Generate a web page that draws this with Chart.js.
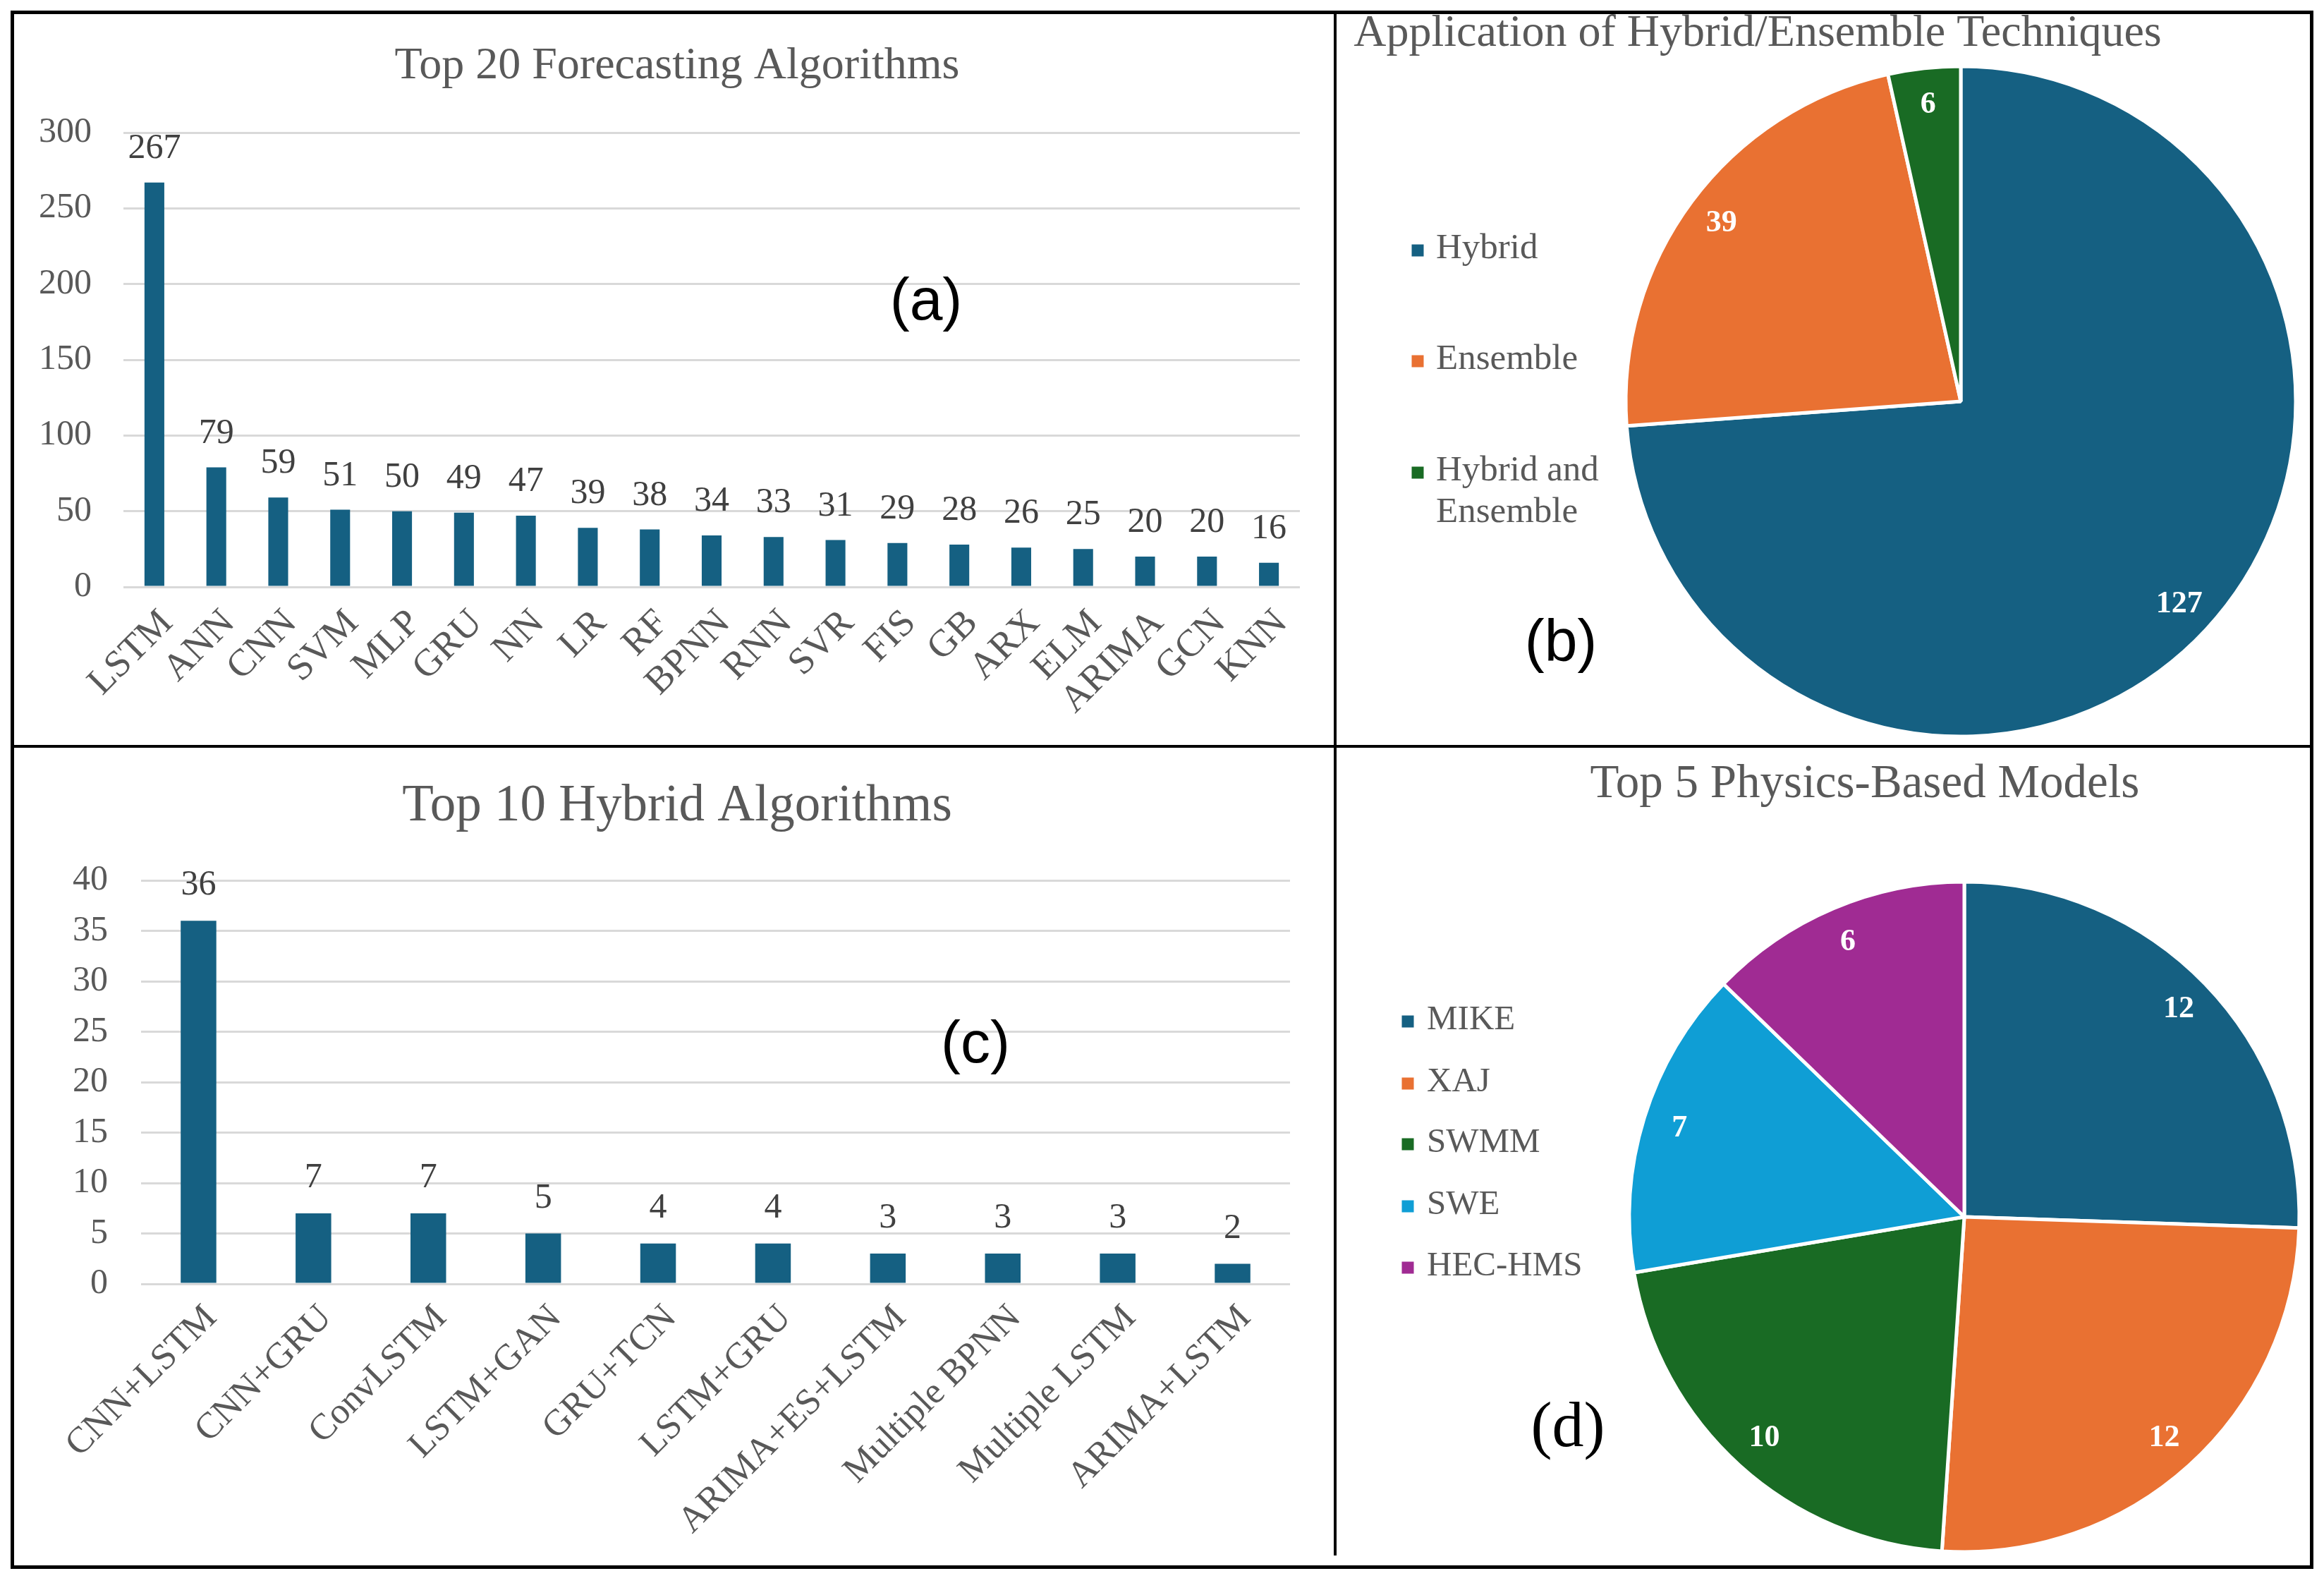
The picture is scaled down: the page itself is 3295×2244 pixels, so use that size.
<!DOCTYPE html>
<html>
<head>
<meta charset="utf-8">
<script src="https://cdn.jsdelivr.net/npm/chart.js@4.4.1/dist/chart.umd.min.js"></script>
<style>
  html, body { margin:0; padding:0; background:#fff; }
  body { width:3295px; height:2244px; position:relative; overflow:hidden; }
  canvas { position:absolute; }
  .ln { position:absolute; background:#000; }
</style>
</head>
<body>
<div class="ln" style="left:15px;top:15px;width:3265px;height:5px"></div>
<div class="ln" style="left:15px;top:2219px;width:3265px;height:5px"></div>
<div class="ln" style="left:15px;top:15px;width:5px;height:2209px"></div>
<div class="ln" style="left:3275px;top:15px;width:5px;height:2209px"></div>
<div class="ln" style="left:15px;top:1056px;width:3265px;height:4px"></div>
<div class="ln" style="left:1891px;top:15px;width:4px;height:2190px"></div>

<canvas id="ca" width="1871" height="1036" style="left:20px;top:20px"></canvas>
<canvas id="cb" width="1380" height="1036" style="left:1895px;top:20px"></canvas>
<canvas id="cc" width="1871" height="1159" style="left:20px;top:1060px"></canvas>
<canvas id="cd" width="1380" height="1159" style="left:1895px;top:1060px"></canvas>

<script>
// ---------------- DATA ----------------
const forecastAlgorithms = ["LSTM","ANN","CNN","SVM","MLP","GRU","NN","LR","RF","BPNN","RNN","SVR","FIS","GB","ARX","ELM","ARIMA","GCN","KNN"];
const forecastCounts     = [267, 79, 59, 51, 50, 49, 47, 39, 38, 34, 33, 31, 29, 28, 26, 25, 20, 20, 16];

const hybridAlgorithms = ["CNN+LSTM","CNN+GRU","ConvLSTM","LSTM+GAN","GRU+TCN","LSTM+GRU","ARIMA+ES+LSTM","Multiple BPNN","Multiple LSTM","ARIMA+LSTM"];
const hybridCounts     = [36, 7, 7, 5, 4, 4, 3, 3, 3, 2];

const techniqueLabels = ["Hybrid","Ensemble","Hybrid and Ensemble"];
const techniqueCounts = [127, 39, 6];

const physicsModels = ["MIKE","XAJ","SWMM","SWE","HEC-HMS"];
const physicsCounts = [12, 12, 10, 7, 6];

const ticksA = [0, 50, 100, 150, 200, 250, 300];
const ticksC = [0, 5, 10, 15, 20, 25, 30, 35, 40];

// ---------------- STYLE ----------------
const SERIF = "'Liberation Serif', 'Times New Roman', serif";
const SANS = "'Liberation Sans', Arial, sans-serif";
const BLUE = "#156082", ORANGE = "#E97132", GREEN = "#196B24", CYAN = "#0F9ED5", PURPLE = "#A02B93";
const GREY = "#595959";

Chart.defaults.font.family = SERIF;
Chart.defaults.color = GREY;

function wrapText(ctx, text, maxW) {
  const words = text.split(' ');
  const lines = [];
  let cur = '';
  for (const w of words) {
    const t = cur ? cur + ' ' + w : w;
    if (ctx.measureText(t).width > maxW && cur) { lines.push(cur); cur = w; }
    else cur = t;
  }
  if (cur) lines.push(cur);
  return lines;
}

const overlay = {
  id: 'overlay',
  afterDatasetsDraw(chart, args, o) {
    const ctx = chart.ctx;
    ctx.save();
    if (o.title) {
      ctx.font = o.title.font;
      ctx.fillStyle = GREY;
      ctx.textAlign = 'center';
      ctx.textBaseline = 'middle';
      ctx.fillText(o.title.text, o.title.x, o.title.y);
    }
    if (o.letter) {
      ctx.font = o.letter.font;
      ctx.fillStyle = '#000';
      ctx.textAlign = 'center';
      ctx.textBaseline = 'middle';
      ctx.fillText(o.letter.text, o.letter.x, o.letter.y);
    }
    const meta = chart.getDatasetMeta(0);
    const data = chart.data.datasets[0].data;
    if (o.barLabels) {
      ctx.font = o.barLabels.font;
      ctx.fillStyle = '#404040';
      ctx.textAlign = 'center';
      ctx.textBaseline = 'middle';
      meta.data.forEach((el, i) => {
        ctx.fillText(String(data[i]), el.x, el.y - o.barLabels.offset);
      });
    }
    if (o.pieLabels) {
      ctx.font = o.pieLabels.font;
      ctx.fillStyle = '#fff';
      ctx.textAlign = 'center';
      ctx.textBaseline = 'middle';
      meta.data.forEach((arc, i) => {
        const p = arc.getProps(['x','y','startAngle','endAngle','outerRadius'], true);
        const mid = (p.startAngle + p.endAngle) / 2;
        const r = p.outerRadius * o.pieLabels.ratio;
        ctx.fillText(String(data[i]), p.x + Math.cos(mid) * r, p.y + Math.sin(mid) * r);
      });
    }
    if (o.legend) {
      const L = o.legend;
      ctx.font = L.font;
      ctx.textAlign = 'left';
      ctx.textBaseline = 'middle';
      const colors = chart.data.datasets[0].backgroundColor;
      chart.data.labels.forEach((lab, i) => {
        const lines = wrapText(ctx, lab, L.maxWidth);
        const y0 = L.rows[i];
        ctx.fillStyle = colors[i];
        ctx.fillRect(L.boxX - L.box / 2, y0 - L.box / 2 + 2, L.box, L.box);
        ctx.fillStyle = GREY;
        lines.forEach((ln, k) => ctx.fillText(ln, L.textX, y0 + k * L.lineH));
      });
    }
    ctx.restore();
  }
};

function barChart(id, labels, values, ticks, cfg) {
  return new Chart(document.getElementById(id), {
    type: 'bar',
    data: { labels: labels, datasets: [{ data: values, backgroundColor: BLUE, borderWidth: 0,
      categoryPercentage: 1.0, barPercentage: cfg.barPct }] },
    options: {
      responsive: false, animation: false, devicePixelRatio: 1,
      layout: { padding: cfg.padding },
      plugins: { legend: { display: false }, tooltip: { enabled: false }, title: { display: false },
        overlay: cfg.overlay },
      scales: {
        x: {
          grid: { display: false, drawTicks: false },
          border: { display: false },
          ticks: { font: { size: cfg.xTickSize }, color: GREY, minRotation: 45, maxRotation: 45,
            padding: cfg.xPad, labelOffset: cfg.xShift, autoSkip: false },
          afterFit: s => { s.height = cfg.xHeight; }
        },
        y: {
          min: ticks[0], max: ticks[ticks.length - 1],
          afterBuildTicks: s => { s.ticks = ticks.map(v => ({ value: v })); },
          grid: { color: '#d9d9d9', lineWidth: 3, drawTicks: false },
          border: { display: false },
          ticks: { font: { size: cfg.tickSize }, color: GREY, padding: cfg.yPad },
          afterFit: s => { s.width = cfg.yWidth; }
        }
      }
    },
    plugins: [overlay]
  });
}

function pieChart(id, labels, values, colors, cfg) {
  return new Chart(document.getElementById(id), {
    type: 'pie',
    data: { labels: labels, datasets: [{ data: values, backgroundColor: colors, borderColor: '#fff', borderWidth: 5 }] },
    options: {
      responsive: false, animation: false, devicePixelRatio: 1,
      radius: cfg.radius,
      layout: { padding: cfg.padding },
      plugins: { legend: { display: false }, tooltip: { enabled: false }, title: { display: false },
        overlay: cfg.overlay }
    },
    plugins: [overlay]
  });
}

// (a)
barChart('ca', forecastAlgorithms, forecastCounts, ticksA, {
  barPct: 0.32, tickSize: 50, xTickSize: 54, xPad: 20, xShift: 18, xHeight: 200, yWidth: 155, yPad: 45,
  padding: { left: 0, right: 48, top: 168, bottom: 24 },
  overlay: {
    title: { text: 'Top 20 Forecasting Algorithms', font: `64px ${SERIF}`, x: 940, y: 74 },
    letter: { text: '(a)', font: `84px ${SANS}`, x: 1293, y: 410 },
    barLabels: { font: `50px ${SERIF}`, offset: 48 }
  }
});

// (c)
barChart('cc', hybridAlgorithms, hybridCounts, ticksC, {
  barPct: 0.31, tickSize: 50, xTickSize: 52, xPad: 18, xShift: 18, xHeight: 380, yWidth: 180, yPad: 47,
  padding: { left: 0, right: 62, top: 188, bottom: 19 },
  overlay: {
    title: { text: 'Top 10 Hybrid Algorithms', font: `73px ${SERIF}`, x: 940, y: 84 },
    letter: { text: '(c)', font: `84px ${SANS}`, x: 1363, y: 423 },
    barLabels: { font: `50px ${SERIF}`, offset: 50 }
  }
});

// (b)
pieChart('cb', techniqueLabels, techniqueCounts, [BLUE, ORANGE, GREEN], {
  radius: 475,
  padding: { left: 405, right: 15, top: 69, bottom: 7 },
  overlay: {
    title: { text: 'Application of Hybrid/Ensemble Techniques', font: `64px ${SERIF}`, x: 597, y: 28 },
    letter: { text: '(b)', font: `84px ${SANS}`, x: 318, y: 894 },
    pieLabels: { font: `bold 44px ${SERIF}`, ratio: 0.89 },
    legend: { font: `51px ${SERIF}`, box: 17, boxX: 115, textX: 141, maxWidth: 260, lineH: 59, rows: [333, 490, 648] }
  }
});

// (d)
pieChart('cd', physicsModels, physicsCounts, [BLUE, ORANGE, GREEN, CYAN, PURPLE], {
  radius: 475,
  padding: { left: 410, right: 10, top: 185, bottom: 14 },
  overlay: {
    title: { text: 'Top 5 Physics-Based Models', font: `67px ${SERIF}`, x: 749, y: 52 },
    letter: { text: '(d)', font: `90px ${SERIF}`, x: 328, y: 966 },
    pieLabels: { font: `bold 44px ${SERIF}`, ratio: 0.89 },
    legend: { font: `49px ${SERIF}`, box: 17, boxX: 101, textX: 128, maxWidth: 400, lineH: 50, rows: [386, 474, 560, 648, 735] }
  }
});
</script>
</body>
</html>
